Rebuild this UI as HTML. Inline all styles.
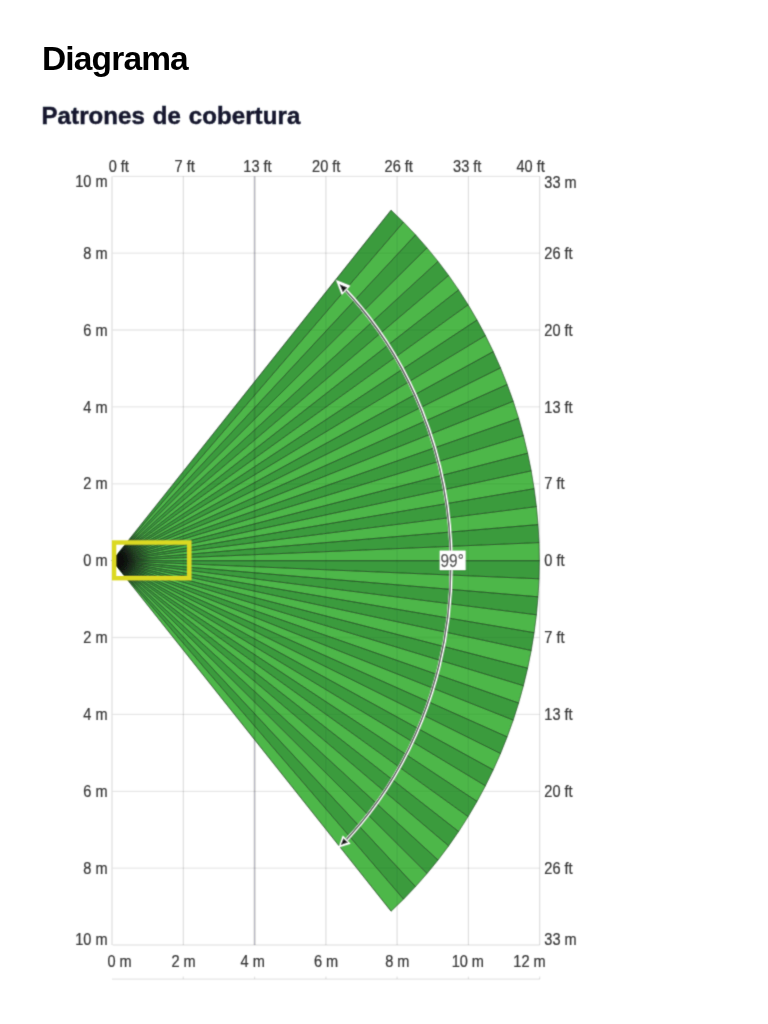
<!DOCTYPE html>
<html><head><meta charset="utf-8"><title>Diagrama</title>
<style>
html,body{margin:0;padding:0;background:#fff;}
body{width:768px;height:1024px;position:relative;overflow:hidden;font-family:"Liberation Sans",sans-serif;}
h1{position:absolute;left:42px;top:41px;margin:0;font-size:33.5px;line-height:36px;font-weight:bold;color:#000;letter-spacing:-0.85px;white-space:nowrap;}
h2{position:absolute;left:41.5px;top:102px;letter-spacing:0.1px;-webkit-text-stroke:0.45px #15192e;margin:0;font-size:24px;line-height:28px;font-weight:bold;color:#15192e;word-spacing:1px;white-space:nowrap;filter:url(#bl);}
svg{position:absolute;left:0;top:0;}
svg text{font-family:"Liberation Sans",sans-serif;font-size:16px;fill:#3a3a3a;stroke:#3a3a3a;stroke-width:0.25px;}
</style></head><body>
<h1>Diagrama</h1>
<h2>Patrones de cobertura</h2>
<svg width="768" height="1024" viewBox="0 0 768 1024">
<defs><radialGradient id="rg" gradientUnits="userSpaceOnUse" cx="112.3" cy="560.7" r="39"><stop offset="0" stop-color="#101010" stop-opacity="1"/><stop offset="0.3" stop-color="#101010" stop-opacity="0.95"/><stop offset="0.6" stop-color="#101010" stop-opacity="0.35"/><stop offset="1" stop-color="#101010" stop-opacity="0"/></radialGradient><filter id="bl" x="-5%" y="-5%" width="110%" height="110%"><feConvolveMatrix order="3" kernelMatrix="0.0225 0.1050 0.0225 0.1050 0.4900 0.1050 0.0225 0.1050 0.0225" edgeMode="none"/></filter></defs>
<g filter="url(#bl)">
<g>
<line x1="112.0" y1="176.3" x2="112.0" y2="945.0" stroke="#10141c" stroke-opacity="0.075" stroke-width="1.3"/>
<line x1="183.3" y1="176.3" x2="183.3" y2="945.0" stroke="#10141c" stroke-opacity="0.075" stroke-width="1.3"/>
<line x1="254.6" y1="176.3" x2="254.6" y2="945.0" stroke="#10141c" stroke-opacity="0.150" stroke-width="1.7"/>
<line x1="325.9" y1="176.3" x2="325.9" y2="945.0" stroke="#10141c" stroke-opacity="0.075" stroke-width="1.3"/>
<line x1="397.1" y1="176.3" x2="397.1" y2="945.0" stroke="#10141c" stroke-opacity="0.075" stroke-width="1.3"/>
<line x1="468.4" y1="176.3" x2="468.4" y2="945.0" stroke="#10141c" stroke-opacity="0.075" stroke-width="1.3"/>
<line x1="539.7" y1="176.3" x2="539.7" y2="945.0" stroke="#10141c" stroke-opacity="0.075" stroke-width="1.3"/>
<line x1="112.6" y1="176.3" x2="539.7" y2="176.3" stroke="#10141c" stroke-opacity="0.060" stroke-width="1.3"/>
<line x1="112.6" y1="253.2" x2="539.7" y2="253.2" stroke="#10141c" stroke-opacity="0.060" stroke-width="1.3"/>
<line x1="112.6" y1="330.0" x2="539.7" y2="330.0" stroke="#10141c" stroke-opacity="0.060" stroke-width="1.3"/>
<line x1="112.6" y1="406.9" x2="539.7" y2="406.9" stroke="#10141c" stroke-opacity="0.060" stroke-width="1.3"/>
<line x1="112.6" y1="483.8" x2="539.7" y2="483.8" stroke="#10141c" stroke-opacity="0.060" stroke-width="1.3"/>
<line x1="112.6" y1="560.6" x2="539.7" y2="560.6" stroke="#10141c" stroke-opacity="0.060" stroke-width="1.3"/>
<line x1="112.6" y1="637.5" x2="539.7" y2="637.5" stroke="#10141c" stroke-opacity="0.060" stroke-width="1.3"/>
<line x1="112.6" y1="714.4" x2="539.7" y2="714.4" stroke="#10141c" stroke-opacity="0.060" stroke-width="1.3"/>
<line x1="112.6" y1="791.3" x2="539.7" y2="791.3" stroke="#10141c" stroke-opacity="0.060" stroke-width="1.3"/>
<line x1="112.6" y1="868.1" x2="539.7" y2="868.1" stroke="#10141c" stroke-opacity="0.060" stroke-width="1.3"/>
<line x1="112.6" y1="945.0" x2="539.7" y2="945.0" stroke="#10141c" stroke-opacity="0.060" stroke-width="1.3"/>
</g>
<g>
<polygon points="112.3,560.7 391.1,210.2 403.5,222.2" fill="#3b9b3d" stroke="#3b9b3d" stroke-width="0.3"/>
<polygon points="112.3,560.7 403.5,222.2 415.5,234.8" fill="#4db748" stroke="#4db748" stroke-width="0.3"/>
<polygon points="112.3,560.7 415.5,234.8 427.0,247.9" fill="#3b9b3d" stroke="#3b9b3d" stroke-width="0.3"/>
<polygon points="112.3,560.7 427.0,247.9 438.0,261.4" fill="#4db748" stroke="#4db748" stroke-width="0.3"/>
<polygon points="112.3,560.7 438.0,261.4 448.6,275.5" fill="#3b9b3d" stroke="#3b9b3d" stroke-width="0.3"/>
<polygon points="112.3,560.7 448.6,275.5 458.6,289.9" fill="#4db748" stroke="#4db748" stroke-width="0.3"/>
<polygon points="112.3,560.7 458.6,289.9 468.1,304.8" fill="#3b9b3d" stroke="#3b9b3d" stroke-width="0.3"/>
<polygon points="112.3,560.7 468.1,304.8 477.0,320.0" fill="#4db748" stroke="#4db748" stroke-width="0.3"/>
<polygon points="112.3,560.7 477.0,320.0 485.4,335.6" fill="#3b9b3d" stroke="#3b9b3d" stroke-width="0.3"/>
<polygon points="112.3,560.7 485.4,335.6 493.2,351.6" fill="#4db748" stroke="#4db748" stroke-width="0.3"/>
<polygon points="112.3,560.7 493.2,351.6 500.5,367.9" fill="#3b9b3d" stroke="#3b9b3d" stroke-width="0.3"/>
<polygon points="112.3,560.7 500.5,367.9 507.1,384.5" fill="#4db748" stroke="#4db748" stroke-width="0.3"/>
<polygon points="112.3,560.7 507.1,384.5 513.2,401.3" fill="#3b9b3d" stroke="#3b9b3d" stroke-width="0.3"/>
<polygon points="112.3,560.7 513.2,401.3 518.6,418.4" fill="#4db748" stroke="#4db748" stroke-width="0.3"/>
<polygon points="112.3,560.7 518.6,418.4 523.4,435.7" fill="#3b9b3d" stroke="#3b9b3d" stroke-width="0.3"/>
<polygon points="112.3,560.7 523.4,435.7 527.6,453.2" fill="#4db748" stroke="#4db748" stroke-width="0.3"/>
<polygon points="112.3,560.7 527.6,453.2 531.2,470.9" fill="#3b9b3d" stroke="#3b9b3d" stroke-width="0.3"/>
<polygon points="112.3,560.7 531.2,470.9 534.1,488.7" fill="#4db748" stroke="#4db748" stroke-width="0.3"/>
<polygon points="112.3,560.7 534.1,488.7 536.4,506.6" fill="#3b9b3d" stroke="#3b9b3d" stroke-width="0.3"/>
<polygon points="112.3,560.7 536.4,506.6 538.0,524.6" fill="#4db748" stroke="#4db748" stroke-width="0.3"/>
<polygon points="112.3,560.7 538.0,524.6 539.0,542.6" fill="#3b9b3d" stroke="#3b9b3d" stroke-width="0.3"/>
<polygon points="112.3,560.7 539.0,542.6 539.3,560.7" fill="#4db748" stroke="#4db748" stroke-width="0.3"/>
<polygon points="112.3,560.7 539.3,560.7 539.0,578.8" fill="#3b9b3d" stroke="#3b9b3d" stroke-width="0.3"/>
<polygon points="112.3,560.7 539.0,578.8 538.0,596.8" fill="#4db748" stroke="#4db748" stroke-width="0.3"/>
<polygon points="112.3,560.7 538.0,596.8 536.4,614.8" fill="#3b9b3d" stroke="#3b9b3d" stroke-width="0.3"/>
<polygon points="112.3,560.7 536.4,614.8 534.1,632.7" fill="#4db748" stroke="#4db748" stroke-width="0.3"/>
<polygon points="112.3,560.7 534.1,632.7 531.2,650.5" fill="#3b9b3d" stroke="#3b9b3d" stroke-width="0.3"/>
<polygon points="112.3,560.7 531.2,650.5 527.6,668.2" fill="#4db748" stroke="#4db748" stroke-width="0.3"/>
<polygon points="112.3,560.7 527.6,668.2 523.4,685.7" fill="#3b9b3d" stroke="#3b9b3d" stroke-width="0.3"/>
<polygon points="112.3,560.7 523.4,685.7 518.6,703.0" fill="#4db748" stroke="#4db748" stroke-width="0.3"/>
<polygon points="112.3,560.7 518.6,703.0 513.2,720.1" fill="#3b9b3d" stroke="#3b9b3d" stroke-width="0.3"/>
<polygon points="112.3,560.7 513.2,720.1 507.1,736.9" fill="#4db748" stroke="#4db748" stroke-width="0.3"/>
<polygon points="112.3,560.7 507.1,736.9 500.5,753.5" fill="#3b9b3d" stroke="#3b9b3d" stroke-width="0.3"/>
<polygon points="112.3,560.7 500.5,753.5 493.2,769.8" fill="#4db748" stroke="#4db748" stroke-width="0.3"/>
<polygon points="112.3,560.7 493.2,769.8 485.4,785.8" fill="#3b9b3d" stroke="#3b9b3d" stroke-width="0.3"/>
<polygon points="112.3,560.7 485.4,785.8 477.0,801.4" fill="#4db748" stroke="#4db748" stroke-width="0.3"/>
<polygon points="112.3,560.7 477.0,801.4 468.1,816.6" fill="#3b9b3d" stroke="#3b9b3d" stroke-width="0.3"/>
<polygon points="112.3,560.7 468.1,816.6 458.6,831.5" fill="#4db748" stroke="#4db748" stroke-width="0.3"/>
<polygon points="112.3,560.7 458.6,831.5 448.6,845.9" fill="#3b9b3d" stroke="#3b9b3d" stroke-width="0.3"/>
<polygon points="112.3,560.7 448.6,845.9 438.0,860.0" fill="#4db748" stroke="#4db748" stroke-width="0.3"/>
<polygon points="112.3,560.7 438.0,860.0 427.0,873.5" fill="#3b9b3d" stroke="#3b9b3d" stroke-width="0.3"/>
<polygon points="112.3,560.7 427.0,873.5 415.5,886.6" fill="#4db748" stroke="#4db748" stroke-width="0.3"/>
<polygon points="112.3,560.7 415.5,886.6 403.5,899.2" fill="#3b9b3d" stroke="#3b9b3d" stroke-width="0.3"/>
<polygon points="112.3,560.7 403.5,899.2 391.1,911.2" fill="#4db748" stroke="#4db748" stroke-width="0.3"/>
<g stroke="#0a140b" stroke-opacity="0.62" stroke-width="1.0"><line x1="112.3" y1="560.7" x2="391.1" y2="210.2"/><line x1="112.3" y1="560.7" x2="403.5" y2="222.2"/><line x1="112.3" y1="560.7" x2="415.5" y2="234.8"/><line x1="112.3" y1="560.7" x2="427.0" y2="247.9"/><line x1="112.3" y1="560.7" x2="438.0" y2="261.4"/><line x1="112.3" y1="560.7" x2="448.6" y2="275.5"/><line x1="112.3" y1="560.7" x2="458.6" y2="289.9"/><line x1="112.3" y1="560.7" x2="468.1" y2="304.8"/><line x1="112.3" y1="560.7" x2="477.0" y2="320.0"/><line x1="112.3" y1="560.7" x2="485.4" y2="335.6"/><line x1="112.3" y1="560.7" x2="493.2" y2="351.6"/><line x1="112.3" y1="560.7" x2="500.5" y2="367.9"/><line x1="112.3" y1="560.7" x2="507.1" y2="384.5"/><line x1="112.3" y1="560.7" x2="513.2" y2="401.3"/><line x1="112.3" y1="560.7" x2="518.6" y2="418.4"/><line x1="112.3" y1="560.7" x2="523.4" y2="435.7"/><line x1="112.3" y1="560.7" x2="527.6" y2="453.2"/><line x1="112.3" y1="560.7" x2="531.2" y2="470.9"/><line x1="112.3" y1="560.7" x2="534.1" y2="488.7"/><line x1="112.3" y1="560.7" x2="536.4" y2="506.6"/><line x1="112.3" y1="560.7" x2="538.0" y2="524.6"/><line x1="112.3" y1="560.7" x2="539.0" y2="542.6"/><line x1="112.3" y1="560.7" x2="539.3" y2="560.7"/><line x1="112.3" y1="560.7" x2="539.0" y2="578.8"/><line x1="112.3" y1="560.7" x2="538.0" y2="596.8"/><line x1="112.3" y1="560.7" x2="536.4" y2="614.8"/><line x1="112.3" y1="560.7" x2="534.1" y2="632.7"/><line x1="112.3" y1="560.7" x2="531.2" y2="650.5"/><line x1="112.3" y1="560.7" x2="527.6" y2="668.2"/><line x1="112.3" y1="560.7" x2="523.4" y2="685.7"/><line x1="112.3" y1="560.7" x2="518.6" y2="703.0"/><line x1="112.3" y1="560.7" x2="513.2" y2="720.1"/><line x1="112.3" y1="560.7" x2="507.1" y2="736.9"/><line x1="112.3" y1="560.7" x2="500.5" y2="753.5"/><line x1="112.3" y1="560.7" x2="493.2" y2="769.8"/><line x1="112.3" y1="560.7" x2="485.4" y2="785.8"/><line x1="112.3" y1="560.7" x2="477.0" y2="801.4"/><line x1="112.3" y1="560.7" x2="468.1" y2="816.6"/><line x1="112.3" y1="560.7" x2="458.6" y2="831.5"/><line x1="112.3" y1="560.7" x2="448.6" y2="845.9"/><line x1="112.3" y1="560.7" x2="438.0" y2="860.0"/><line x1="112.3" y1="560.7" x2="427.0" y2="873.5"/><line x1="112.3" y1="560.7" x2="415.5" y2="886.6"/><line x1="112.3" y1="560.7" x2="403.5" y2="899.2"/><line x1="112.3" y1="560.7" x2="391.1" y2="911.2"/></g><path d="M391.1,210.2 L403.5,222.2 L415.5,234.8 L427.0,247.9 L438.0,261.4 L448.6,275.5 L458.6,289.9 L468.1,304.8 L477.0,320.0 L485.4,335.6 L493.2,351.6 L500.5,367.9 L507.1,384.5 L513.2,401.3 L518.6,418.4 L523.4,435.7 L527.6,453.2 L531.2,470.9 L534.1,488.7 L536.4,506.6 L538.0,524.6 L539.0,542.6 L539.3,560.7 L539.0,578.8 L538.0,596.8 L536.4,614.8 L534.1,632.7 L531.2,650.5 L527.6,668.2 L523.4,685.7 L518.6,703.0 L513.2,720.1 L507.1,736.9 L500.5,753.5 L493.2,769.8 L485.4,785.8 L477.0,801.4 L468.1,816.6 L458.6,831.5 L448.6,845.9 L438.0,860.0 L427.0,873.5 L415.5,886.6 L403.5,899.2 L391.1,911.2" fill="none" stroke="#0c160d" stroke-opacity="0.5" stroke-width="0.9" stroke-linejoin="round"/>
<clipPath id="fc"><polygon points="112.3,560.7 391.1,210.2 403.5,222.2 415.5,234.8 427.0,247.9 438.0,261.4 448.6,275.5 458.6,289.9 468.1,304.8 477.0,320.0 485.4,335.6 493.2,351.6 500.5,367.9 507.1,384.5 513.2,401.3 518.6,418.4 523.4,435.7 527.6,453.2 531.2,470.9 534.1,488.7 536.4,506.6 538.0,524.6 539.0,542.6 539.3,560.7 539.0,578.8 538.0,596.8 536.4,614.8 534.1,632.7 531.2,650.5 527.6,668.2 523.4,685.7 518.6,703.0 513.2,720.1 507.1,736.9 500.5,753.5 493.2,769.8 485.4,785.8 477.0,801.4 468.1,816.6 458.6,831.5 448.6,845.9 438.0,860.0 427.0,873.5 415.5,886.6 403.5,899.2 391.1,911.2"/></clipPath><circle cx="112.3" cy="560.7" r="46" fill="url(#rg)" clip-path="url(#fc)"/>
</g>
<g>
<line x1="112.0" y1="176.3" x2="112.0" y2="945.0" stroke="#10141c" stroke-opacity="0.056" stroke-width="1.3"/>
<line x1="183.3" y1="176.3" x2="183.3" y2="945.0" stroke="#10141c" stroke-opacity="0.056" stroke-width="1.3"/>
<line x1="254.6" y1="176.3" x2="254.6" y2="945.0" stroke="#10141c" stroke-opacity="0.15" stroke-width="1.7"/>
<line x1="325.9" y1="176.3" x2="325.9" y2="945.0" stroke="#10141c" stroke-opacity="0.056" stroke-width="1.3"/>
<line x1="397.1" y1="176.3" x2="397.1" y2="945.0" stroke="#10141c" stroke-opacity="0.056" stroke-width="1.3"/>
<line x1="468.4" y1="176.3" x2="468.4" y2="945.0" stroke="#10141c" stroke-opacity="0.056" stroke-width="1.3"/>
<line x1="539.7" y1="176.3" x2="539.7" y2="945.0" stroke="#10141c" stroke-opacity="0.056" stroke-width="1.3"/>
<line x1="112.6" y1="176.3" x2="539.7" y2="176.3" stroke="#10141c" stroke-opacity="0.045" stroke-width="1.3"/>
<line x1="112.6" y1="253.2" x2="539.7" y2="253.2" stroke="#10141c" stroke-opacity="0.045" stroke-width="1.3"/>
<line x1="112.6" y1="330.0" x2="539.7" y2="330.0" stroke="#10141c" stroke-opacity="0.045" stroke-width="1.3"/>
<line x1="112.6" y1="406.9" x2="539.7" y2="406.9" stroke="#10141c" stroke-opacity="0.045" stroke-width="1.3"/>
<line x1="112.6" y1="483.8" x2="539.7" y2="483.8" stroke="#10141c" stroke-opacity="0.045" stroke-width="1.3"/>
<line x1="112.6" y1="560.6" x2="539.7" y2="560.6" stroke="#10141c" stroke-opacity="0.045" stroke-width="1.3"/>
<line x1="112.6" y1="637.5" x2="539.7" y2="637.5" stroke="#10141c" stroke-opacity="0.045" stroke-width="1.3"/>
<line x1="112.6" y1="714.4" x2="539.7" y2="714.4" stroke="#10141c" stroke-opacity="0.045" stroke-width="1.3"/>
<line x1="112.6" y1="791.3" x2="539.7" y2="791.3" stroke="#10141c" stroke-opacity="0.045" stroke-width="1.3"/>
<line x1="112.6" y1="868.1" x2="539.7" y2="868.1" stroke="#10141c" stroke-opacity="0.045" stroke-width="1.3"/>
<line x1="112.6" y1="945.0" x2="539.7" y2="945.0" stroke="#10141c" stroke-opacity="0.045" stroke-width="1.3"/>
<line x1="112" y1="979.2" x2="540" y2="979.2" stroke="#000" stroke-opacity="0.1" stroke-width="1.2"/>
<line x1="183.3" y1="976.6" x2="183.3" y2="979" stroke="#000" stroke-opacity="0.1" stroke-width="1.3"/><line x1="254.6" y1="976.6" x2="254.6" y2="979" stroke="#000" stroke-opacity="0.1" stroke-width="1.3"/><line x1="325.9" y1="976.6" x2="325.9" y2="979" stroke="#000" stroke-opacity="0.1" stroke-width="1.3"/><line x1="397.1" y1="976.6" x2="397.1" y2="979" stroke="#000" stroke-opacity="0.1" stroke-width="1.3"/><line x1="468.4" y1="976.6" x2="468.4" y2="979" stroke="#000" stroke-opacity="0.1" stroke-width="1.3"/><line x1="539.7" y1="976.6" x2="539.7" y2="979" stroke="#000" stroke-opacity="0.1" stroke-width="1.3"/>
</g>
<path d="M346,290.4 A339.4,379.9 0 0 1 346.7,839.65" fill="none" stroke="#fff" stroke-width="3.1"/>
<path d="M346,290.4 A339.4,379.9 0 0 1 346.7,839.65" fill="none" stroke="#5c5c5c" stroke-width="1.45" transform="translate(-0.45,0)"/>
<polygon points="336,280 350.3,285.8 341.8,294.9" fill="#fff"/>
<polygon points="339.5,284.2 347.3,287.5 342.8,292.3" fill="#151515"/>
<polygon points="338.6,847.6 342.8,835.6 350.6,843.7" fill="#fff"/>
<polygon points="340.8,845 343.4,838.2 348,842.4" fill="#151515"/>
<rect x="114.1" y="542.5" width="75.2" height="35.7" fill="none" stroke="#dbd924" stroke-width="4.4"/>
<rect x="439.7" y="550.6" width="25.9" height="19.4" fill="#fff"/>
<text x="440.6" y="567" style="fill:#4a4a4a;font-size:18px" textLength="23.2" lengthAdjust="spacingAndGlyphs">99°</text>
<g>
<text transform="translate(118.75,172.00) scale(0.91,1)" text-anchor="middle">0 ft</text>
<text transform="translate(184.70,172.00) scale(0.91,1)" text-anchor="middle">7 ft</text>
<text transform="translate(257.50,172.00) scale(0.91,1)" text-anchor="middle">13 ft</text>
<text transform="translate(326.25,172.00) scale(0.91,1)" text-anchor="middle">20 ft</text>
<text transform="translate(398.75,172.00) scale(0.91,1)" text-anchor="middle">26 ft</text>
<text transform="translate(467.20,172.00) scale(0.91,1)" text-anchor="middle">33 ft</text>
<text transform="translate(530.60,172.00) scale(0.91,1)" text-anchor="middle">40 ft</text>
<text transform="translate(119.50,967.00) scale(0.91,1)" text-anchor="middle">0 m</text>
<text transform="translate(183.60,967.00) scale(0.91,1)" text-anchor="middle">2 m</text>
<text transform="translate(252.70,967.00) scale(0.91,1)" text-anchor="middle">4 m</text>
<text transform="translate(326.10,967.00) scale(0.91,1)" text-anchor="middle">6 m</text>
<text transform="translate(397.30,967.00) scale(0.91,1)" text-anchor="middle">8 m</text>
<text transform="translate(467.80,967.00) scale(0.91,1)" text-anchor="middle">10 m</text>
<text transform="translate(529.50,967.00) scale(0.91,1)" text-anchor="middle">12 m</text>
<text transform="translate(107.60,187.40) scale(0.91,1)" text-anchor="end">10 m</text>
<text transform="translate(107.60,258.77) scale(0.91,1)" text-anchor="end">8 m</text>
<text transform="translate(107.60,335.64) scale(0.91,1)" text-anchor="end">6 m</text>
<text transform="translate(107.60,412.51) scale(0.91,1)" text-anchor="end">4 m</text>
<text transform="translate(107.60,489.38) scale(0.91,1)" text-anchor="end">2 m</text>
<text transform="translate(107.60,566.25) scale(0.91,1)" text-anchor="end">0 m</text>
<text transform="translate(107.60,643.12) scale(0.91,1)" text-anchor="end">2 m</text>
<text transform="translate(107.60,719.99) scale(0.91,1)" text-anchor="end">4 m</text>
<text transform="translate(107.60,796.86) scale(0.91,1)" text-anchor="end">6 m</text>
<text transform="translate(107.60,873.73) scale(0.91,1)" text-anchor="end">8 m</text>
<text transform="translate(107.60,945.00) scale(0.91,1)" text-anchor="end">10 m</text>
<text transform="translate(544.30,187.60) scale(0.91,1)" text-anchor="start">33 m</text>
<text transform="translate(544.30,258.77) scale(0.91,1)" text-anchor="start">26 ft</text>
<text transform="translate(544.30,335.64) scale(0.91,1)" text-anchor="start">20 ft</text>
<text transform="translate(544.30,412.51) scale(0.91,1)" text-anchor="start">13 ft</text>
<text transform="translate(544.30,489.38) scale(0.91,1)" text-anchor="start">7 ft</text>
<text transform="translate(544.30,566.25) scale(0.91,1)" text-anchor="start">0 ft</text>
<text transform="translate(544.30,643.12) scale(0.91,1)" text-anchor="start">7 ft</text>
<text transform="translate(544.30,719.99) scale(0.91,1)" text-anchor="start">13 ft</text>
<text transform="translate(544.30,796.86) scale(0.91,1)" text-anchor="start">20 ft</text>
<text transform="translate(544.30,873.73) scale(0.91,1)" text-anchor="start">26 ft</text>
<text transform="translate(544.30,945.00) scale(0.91,1)" text-anchor="start">33 m</text>
</g>
</g>
</svg>
</body></html>
